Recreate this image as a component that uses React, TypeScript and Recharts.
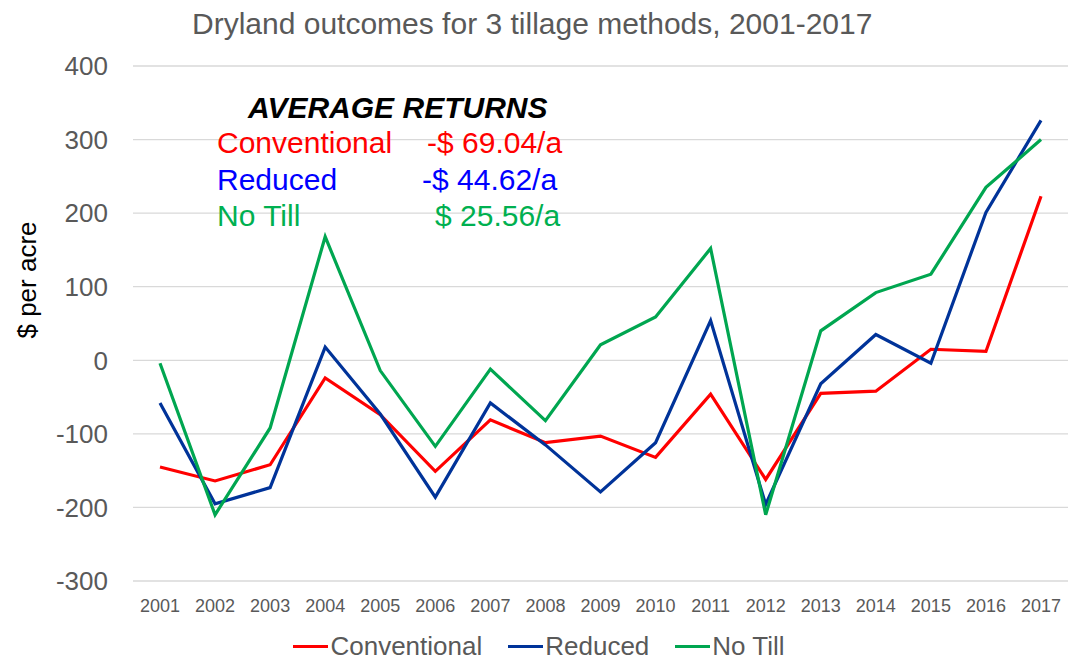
import React from "react";
import { LineChart, Line, XAxis, YAxis, CartesianGrid, Legend } from "recharts";

const years = ["2001", "2002", "2003", "2004", "2005", "2006", "2007", "2008", "2009", "2010", "2011", "2012", "2013", "2014", "2015", "2016", "2017"];
const conventional = [-145, -164, -142, -24, -74, -151, -81, -112, -103, -132, -46, -162, -45, -42, 15, 12, 223];
const reduced = [-58, -195, -173, 18, -73, -186, -58, -115, -179, -112, 54, -196, -32, 35, -4, 201, 326];
const noTill = [-4, -210, -92, 168, -14, -117, -12, -82, 21, 59, 152, -210, 40, 92, 117, 235, 300];
const yTicks = [-300, -200, -100, 0, 100, 200, 300, 400];

const averages = [
  { name: "Conventional", value: "-$ 69.04/a", color: "#FF0000" },
  { name: "Reduced", value: "-$ 44.62/a", color: "#0000FF" },
  { name: "No Till", value: "$ 25.56/a", color: "#00B050" },
];

const series = [
  { key: "conventional", name: "Conventional", color: "#FF0000" },
  { key: "reduced", name: "Reduced", color: "#003399" },
  { key: "noTill", name: "No Till", color: "#00A650" },
];

const data = years.map((year, i) => ({
  year,
  conventional: conventional[i],
  reduced: reduced[i],
  noTill: noTill[i],
}));

const FONT = "'Liberation Sans', Arial, sans-serif";
const GRAY = "#595959";

// value column x positions are a bit ragged in the original (tab stops)
const valueX = [427, 422, 435];

function LegendContent() {
  return (
    <div
      style={{
        position: "relative",
        top: 14,
        display: "flex",
        justifyContent: "center",
        alignItems: "center",
        gap: 26,
        marginLeft: 10,
        fontFamily: FONT,
        fontSize: 26,
        lineHeight: "26px",
        color: GRAY,
      }}
    >
      {series.map((s) => (
        <div key={s.key} style={{ display: "flex", alignItems: "center" }}>
          <span style={{ display: "inline-block", width: 35, height: 3, background: s.color, marginRight: 2 }} />
          <span>{s.name}</span>
        </div>
      ))}
    </div>
  );
}

export default function App() {
  return (
    <div style={{ position: "absolute", left: 0, top: 0, width: 1068, height: 659, background: "#fff" }}>
      <LineChart width={1068} height={659} data={data} margin={{ top: 66, right: 0, left: 0, bottom: 0 }}>
        <CartesianGrid vertical={false} stroke="#D9D9D9" strokeWidth={1.3} />
        <XAxis
          dataKey="year"
          height={38}
          axisLine={false}
          tickLine={false}
          tickMargin={12}
          interval={0}
          padding={{ left: 27, right: 27 }}
          tick={{ fontSize: 18, fill: GRAY, fontFamily: FONT }}
        />
        <YAxis
          width={133}
          domain={[-300, 400]}
          ticks={yTicks}
          axisLine={false}
          tickLine={false}
          tickMargin={19}
          tick={{ fontSize: 26, fill: GRAY, fontFamily: FONT }}
          label={{
            content: () => (
              <text
                x={27}
                y={280}
                transform="rotate(-90 27 280)"
                textAnchor="middle"
                dominantBaseline="central"
                fontSize={26}
                fontFamily={FONT}
                fill="#000"
              >
                $ per acre
              </text>
            ),
          }}
        />
        <Legend verticalAlign="bottom" content={<LegendContent />} wrapperStyle={{ height: 40 }} />
        {series.map((s) => (
          <Line
            key={s.key}
            type="linear"
            dataKey={s.key}
            name={s.name}
            stroke={s.color}
            strokeWidth={3.2}
            dot={false}
            activeDot={false}
            isAnimationActive={false}
          />
        ))}
        <text x={192} y={34} fontSize={30} fontFamily={FONT} fill={GRAY}>
          Dryland outcomes for 3 tillage methods, 2001-2017
        </text>
        <text x={248} y={118} fontSize={30} fontFamily={FONT} fontWeight="bold" fontStyle="italic" fill="#000">
          AVERAGE RETURNS
        </text>
        {averages.map((a, i) => (
          <g key={a.name} fontSize={30} fontFamily={FONT} fill={a.color}>
            <text x={217} y={153 + i * 36.7}>{a.name}</text>
            <text x={valueX[i]} y={153 + i * 36.7}>{a.value}</text>
          </g>
        ))}
      </LineChart>
    </div>
  );
}
